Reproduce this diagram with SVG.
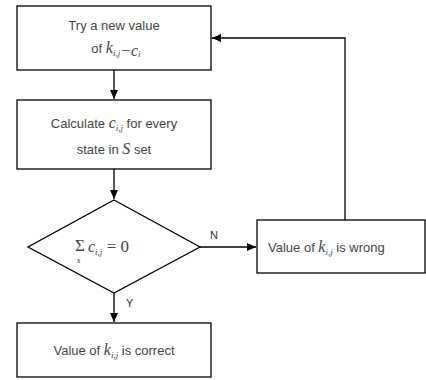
<svg xmlns="http://www.w3.org/2000/svg" width="426" height="380" viewBox="0 0 426 380">
<style>
.box{fill:#fff;stroke:#000;stroke-width:1.3}
.t{font-family:"Liberation Sans",Arial,sans-serif;font-size:13px;fill:#444}
.m{font-family:"Liberation Serif","Times New Roman",serif;font-style:italic;font-size:16px;fill:#444}
.u{font-family:"Liberation Serif","Times New Roman",serif;font-style:normal;font-size:17px;fill:#444}
.s{font-size:9px}
.lbl{font-family:"Liberation Sans",Arial,sans-serif;font-size:11px;fill:#333}
.c{fill:none;stroke:#000;stroke-width:1.3}
</style>
<defs>
<marker id="ah" markerWidth="10" markerHeight="10" refX="9" refY="5" orient="auto" markerUnits="userSpaceOnUse">
<path d="M0,1 L9,5 L0,9 Z" fill="#000"/>
</marker>
</defs>
<g id="n1">
<rect class="box" x="17" y="6" width="194" height="64"/>
<text class="t" x="114" y="30" text-anchor="middle">Try a new value</text>
<text x="116" y="53" text-anchor="middle"><tspan class="t">of  </tspan><tspan class="m">k</tspan><tspan class="m s" dy="3">i,j</tspan><tspan class="m" font-size="12">−c</tspan><tspan class="m s" font-size="7" dy="1">i</tspan></text>
</g>
<g id="n2">
<rect class="box" x="17" y="100" width="194" height="69"/>
<text x="114" y="128" text-anchor="middle"><tspan class="t">Calculate </tspan><tspan class="m">c</tspan><tspan class="m s" dy="3">i,j</tspan><tspan class="t" dy="-3"> for every</tspan></text>
<text x="114" y="154" text-anchor="middle"><tspan class="t">state in </tspan><tspan class="m">S</tspan><tspan class="t"> set</tspan></text>
</g>
<g id="n3">
<polygon class="box" points="114,200 200,247 114,293 28,247"/>
<text class="u" x="75" y="251" font-size="12">Σ</text>
<text class="m s" x="77" y="263">s</text>
<text x="88" y="252"><tspan class="m">c</tspan><tspan class="m s" dy="3">i,j</tspan><tspan class="u" dy="-3"> = 0</tspan></text>
</g>
<g id="n4">
<rect class="box" x="257" y="220" width="168" height="53"/>
<text x="268" y="252"><tspan class="t">Value of </tspan><tspan class="m">k</tspan><tspan class="m s" dy="3">i,j</tspan><tspan class="t" dy="-3"> is wrong</tspan></text>
</g>
<g id="n5">
<rect class="box" x="17" y="323" width="194" height="54"/>
<text x="114" y="355" text-anchor="middle"><tspan class="t">Value of </tspan><tspan class="m">k</tspan><tspan class="m s" dy="3">i,j</tspan><tspan class="t" dy="-3"> is correct</tspan></text>
</g>
<g id="connectors">
<line class="c" x1="114" y1="70" x2="114" y2="99" marker-end="url(#ah)"/>
<line class="c" x1="114" y1="169" x2="114" y2="199" marker-end="url(#ah)"/>
<line class="c" x1="200" y1="247" x2="256" y2="247" marker-end="url(#ah)"/>
<line class="c" x1="114" y1="293" x2="114" y2="322" marker-end="url(#ah)"/>
<polyline class="c" points="345,220 345,38 212,38" marker-end="url(#ah)"/>
<text class="lbl" x="210" y="239">N</text>
<text class="lbl" x="126" y="307">Y</text>
</g>
</svg>
